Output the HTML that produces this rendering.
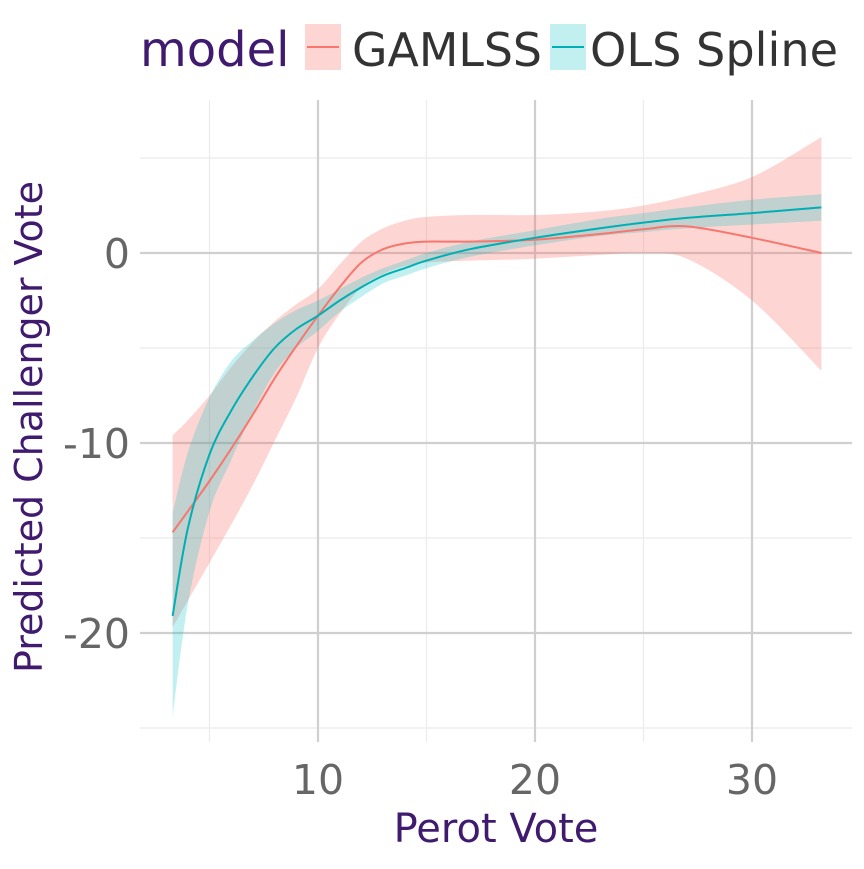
<!DOCTYPE html>
<html><head><meta charset="utf-8"><style>
body{margin:0;background:#fff}
svg text{font-family:"DejaVu Sans","Liberation Sans",sans-serif}
</style></head><body>
<svg id="c" width="864" height="864" xmlns="http://www.w3.org/2000/svg"></svg>
<script>
const xs=[3.3,4,5,6,7,8,9,10,11,12,13,14,15,17,20,23,25,27,30,33.2];
const gamMean=[-14.7,-13.6,-12.0,-10.3,-8.5,-6.6,-4.9,-3.3,-1.8,-0.5,0.2,0.5,0.6,0.6,0.7,1.0,1.25,1.4,0.8,0.0];
const gamUp=[-9.6,-8.8,-7.5,-6.0,-4.7,-3.6,-2.7,-1.9,-0.6,0.6,1.3,1.7,1.9,2.0,2.0,2.2,2.5,3.0,4.0,6.1];
const gamLo=[-19.7,-18.3,-16.3,-14.3,-12.2,-9.9,-7.6,-5.0,-3.2,-1.8,-1.1,-0.7,-0.5,-0.4,-0.3,-0.1,0.0,-0.3,-2.5,-6.2];
const olsMean=[-19.1,-14.5,-10.6,-8.3,-6.5,-5.0,-4.0,-3.3,-2.5,-1.8,-1.2,-0.8,-0.4,0.2,0.8,1.3,1.6,1.85,2.1,2.4];
const olsUp=[-13.7,-10.5,-7.6,-5.7,-4.6,-3.7,-3.0,-2.5,-1.9,-1.3,-0.8,-0.4,0.0,0.6,1.2,1.8,2.1,2.4,2.8,3.1];
const olsLo=[-24.4,-18.5,-13.6,-10.9,-8.4,-6.3,-5.0,-4.1,-3.1,-2.3,-1.6,-1.2,-0.8,-0.2,0.4,0.9,1.1,1.3,1.5,1.7];
const xTicks=[10,20,30], xMinor=[5,15,25];
const yTicks=[0,-10,-20], yMinor=[5,-5,-15,-25];
const X=v=>101+21.7*v, Y=v=>253-19*v;
const svg=document.getElementById('c'), NS='http://www.w3.org/2000/svg';
function mk(t,a,p){const e=document.createElementNS(NS,t);for(const k in a)e.setAttribute(k,a[k]);(p||svg).appendChild(e);return e;}
function smooth(pts,start){let d=start?'M'+pts[0][0]+','+pts[0][1]:'L'+pts[0][0]+','+pts[0][1];
 for(let i=0;i<pts.length-1;i++){const p0=pts[Math.max(i-1,0)],p1=pts[i],p2=pts[i+1],p3=pts[Math.min(i+2,pts.length-1)];
  d+='C'+(p1[0]+(p2[0]-p0[0])/6)+','+(p1[1]+(p2[1]-p0[1])/6)+' '+(p2[0]-(p3[0]-p1[0])/6)+','+(p2[1]-(p3[1]-p1[1])/6)+' '+p2[0]+','+p2[1];}
 return d;}
const L=140,R=852,T=100,B=742;
xMinor.forEach(v=>{const e=mk('line',{x1:X(v),x2:X(v),y1:T,y2:B,stroke:'#ebebeb','stroke-width':1.2});});
yMinor.forEach(v=>{const e=mk('line',{x1:L,x2:R,y1:Y(v),y2:Y(v),stroke:'#ebebeb','stroke-width':1.2});});
xTicks.forEach(v=>{const e=mk('line',{x1:X(v),x2:X(v),y1:T,y2:B,stroke:'#cfcfcf','stroke-width':2.2});
 const t=mk('text',{x:X(v),y:794,'text-anchor':'middle','font-size':41,fill:'#666'});t.textContent=v;});
yTicks.forEach(v=>{const e=mk('line',{x1:L,x2:R,y1:Y(v),y2:Y(v),stroke:'#cfcfcf','stroke-width':2.2});
 const t=mk('text',{x:130,y:Y(v)+15,'text-anchor':'end','font-size':41,fill:'#666'});t.textContent=v;});
function band(up,lo,col,op,name){const u=xs.map((x,i)=>[X(x),Y(up[i])]),l=xs.map((x,i)=>[X(x),Y(lo[i])]).reverse();
 const e=mk('path',{d:smooth(u,true)+smooth(l,false)+'Z',fill:col,'fill-opacity':op});}
function line(m,col,name){const e=mk('path',{d:smooth(xs.map((x,i)=>[X(x),Y(m[i])]),true),fill:'none',stroke:col,'stroke-width':2});}
band(gamUp,gamLo,'#F8766D',0.3,'gamlss-band');
band(olsUp,olsLo,'#00BFC4',0.24,'ols-band');
line(gamMean,'#F8766D','gamlss-line');
line(olsMean,'#00AFB4','ols-line');
let t=mk('text',{x:496,y:842,'text-anchor':'middle','font-size':40,fill:'#3f1a6e'});t.textContent='Perot Vote';
t=mk('text',{x:0,y:0,'text-anchor':'middle','font-size':38,fill:'#3f1a6e',transform:'translate(42,427) rotate(-90)',textLength:492,lengthAdjust:'spacingAndGlyphs'});t.textContent='Predicted Challenger Vote';
t=mk('text',{x:140,y:66,'font-size':48,fill:'#3f1a6e'});t.textContent='model';
[['GAMLSS','#F8766D',0.3,'#F8766D',305,352,190],['OLS Spline','#00BFC4',0.24,'#00AFB4',550,590,248]].forEach(a=>{
 const g=mk('g',{});
 mk('rect',{x:a[4],y:24,width:36,height:46,fill:a[1],'fill-opacity':a[2]},g);
 mk('line',{x1:a[4]+2,x2:a[4]+34,y1:47,y2:47,stroke:a[3],'stroke-width':2},g);
 const tt=mk('text',{x:a[5],y:66,'font-size':46,fill:'#333',textLength:a[6],lengthAdjust:'spacingAndGlyphs'},g);tt.textContent=a[0];});
</script>
</body></html>
